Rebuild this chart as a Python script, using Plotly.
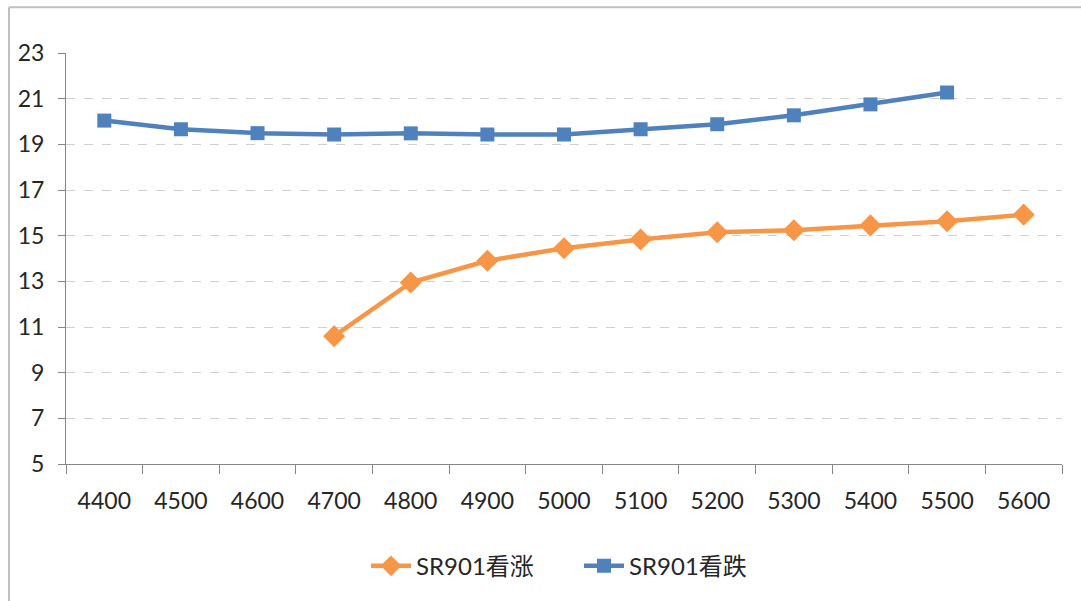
import plotly.graph_objects as go

# Strike prices (category axis) and implied volatility for calls / puts
strikes = ["4400", "4500", "4600", "4700", "4800", "4900", "5000",
           "5100", "5200", "5300", "5400", "5500", "5600"]
call_iv = [None, None, None, 10.6, 12.95, 13.9, 14.45, 14.83,
           15.15, 15.24, 15.45, 15.63, 15.92]
put_iv = [20.04, 19.66, 19.49, 19.43, 19.48, 19.43, 19.43, 19.66,
          19.88, 20.27, 20.75, 21.27, None]
y_ticks = [5, 7, 9, 11, 13, 15, 17, 19, 21, 23]

FONT = "Lato, 'Noto Sans CJK SC', sans-serif"
AXIS_GREY = "#868686"

W, H = 1081, 601
ML, MR, MT, MB = 66, 19, 53, 134
pw, ph = W - ML - MR, H - MT - MB


def px_x(p):
    return (p - ML) / pw


def px_y(p):
    return (H - MB - p) / ph


fig = go.Figure()
fig.add_trace(go.Scatter(
    x=strikes, y=call_iv, name="SR901看涨", mode="lines+markers",
    line=dict(color="#F79646", width=4.5),
    marker=dict(symbol="diamond", size=17, color="#F79646"),
))
fig.add_trace(go.Scatter(
    x=strikes, y=put_iv, name="SR901看跌", mode="lines+markers",
    line=dict(color="#4F81BD", width=4.5),
    marker=dict(symbol="square", size=14, color="#4F81BD"),
))

fig.update_layout(
    width=W, height=H,
    margin=dict(l=ML, r=MR, t=MT, b=MB, pad=0),
    paper_bgcolor="white", plot_bgcolor="white",
    font=dict(family=FONT, size=23, color="#262626"),
    showlegend=True,
    legend=dict(orientation="h", x=px_x(366), xanchor="left",
                y=px_y(570), yanchor="middle",
                font=dict(family=FONT, size=24, color="#262626"),
                entrywidth=158, entrywidthmode="pixels",
                itemwidth=40, tracegroupgap=0),
    xaxis=dict(
        type="category", categoryorder="array", categoryarray=strikes,
        range=[-0.5, len(strikes) - 0.5],
        tickson="boundaries", ticks="outside", ticklen=9,
        tickcolor=AXIS_GREY, tickwidth=1,
        showline=True, linecolor=AXIS_GREY, linewidth=1,
        showgrid=False, zeroline=False,
        tickfont=dict(size=23), ticklabelstandoff=16,
    ),
    yaxis=dict(
        range=[5, 23], tickvals=y_ticks,
        ticks="outside", ticklen=7, tickcolor=AXIS_GREY, tickwidth=1,
        showline=True, linecolor=AXIS_GREY, linewidth=1,
        showgrid=True, gridcolor="#d0d0d0", gridwidth=1, griddash="dash",
        zeroline=False, tickfont=dict(size=23), ticklabelstandoff=9,
    ),
)

# Chart frame (top and left edges)
fig.add_shape(type="line", xref="paper", yref="paper",
              x0=px_x(9), x1=px_x(W + 5), y0=px_y(7), y1=px_y(7),
              line=dict(color="#c0c0c0", width=2))
fig.add_shape(type="line", xref="paper", yref="paper",
              x0=px_x(9), x1=px_x(9), y0=px_y(7), y1=px_y(H + 5),
              line=dict(color="#c0c0c0", width=2))

fig.write_html("out.html")
